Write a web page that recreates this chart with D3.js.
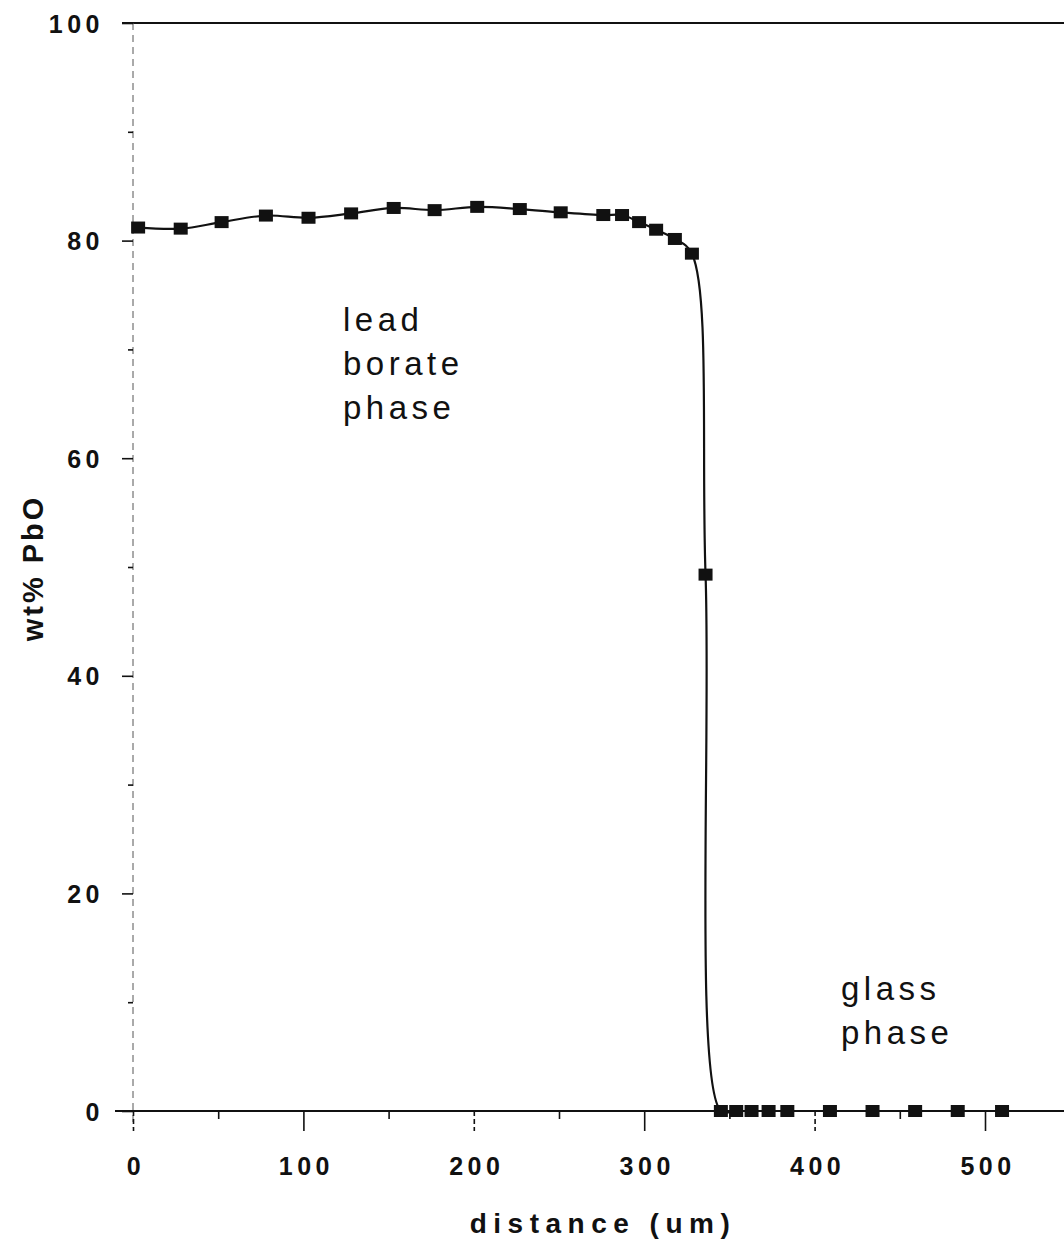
<!DOCTYPE html>
<html lang="en">
<head>
  <meta charset="UTF-8">
  <title>wt% PbO vs distance</title>
  <script src="https://d3js.org/d3.v7.min.js"></script>
  <style>
    body {
      margin: 0;
      background: #fff;
      font-family: "Liberation Sans", Arial, sans-serif;
    }
    .tick text {
      font-family: "Liberation Sans", Arial, sans-serif;
      font-size: 25px;
      font-weight: bold;
      fill: #111;
      letter-spacing: 4.5px;
    }
    .tick line {
      stroke: #111;
      stroke-width: 1.6;
    }
    .note {
      font-size: 33px;
      letter-spacing: 4.5px;
      fill: #111;
    }
    .title {
      font-weight: bold;
      fill: #111;
    }
  </style>
</head>
<body>
  <div id="chart"></div>

  <script>
    // data
    const distance = [3, 28, 52, 78, 103, 128, 153, 177, 202, 227, 251, 276, 287, 297,
                      307, 318, 328, 336, 345, 354, 363, 373, 384, 409, 434, 459, 484, 510];
    const pbo = [81.2, 81.1, 81.7, 82.3, 82.1, 82.5, 83.0, 82.8, 83.1, 82.9, 82.6, 82.35,
                 82.35, 81.7, 81.0, 80.15, 78.8, 49.3, 0, 0, 0, 0, 0, 0, 0, 0, 0, 0];

    const xMajor = [0, 100, 200, 300, 400, 500];
    const xMinor = [50, 150, 250, 350, 450];
    const yMajor = [0, 20, 40, 60, 80, 100];
    const yMinor = [10, 30, 50, 70, 90];

    const width = 1064, height = 1240;
    const x0 = 133, yTop = 23, yZero = 1111;

    const x = d3.scaleLinear().domain([0, 550]).range([x0, x0 + 550 * 1.704]);
    const y = d3.scaleLinear().domain([0, 100]).range([yZero, yTop]);

    const svg = d3.select("#chart")
      .append("svg")
      .attr("width", width)
      .attr("height", height);

    // frame lines: top at 100, solid zero line
    svg.append("line")
      .attr("x1", 122).attr("x2", width)
      .attr("y1", y(100)).attr("y2", y(100))
      .attr("stroke", "#111").attr("stroke-width", 1.8);

    svg.append("line")
      .attr("x1", 115).attr("x2", width)
      .attr("y1", y(0)).attr("y2", y(0))
      .attr("stroke", "#111").attr("stroke-width", 1.8);

    // dashed y axis line
    svg.append("line")
      .attr("x1", x0).attr("x2", x0)
      .attr("y1", y(100)).attr("y2", y(-1.5))
      .attr("stroke", "#555").attr("stroke-width", 1)
      .attr("stroke-dasharray", "7,5");

    // y axis
    const yAxis = svg.append("g")
      .attr("transform", `translate(${x0},0)`)
      .call(d3.axisLeft(y).tickValues(yMajor).tickSize(11).tickPadding(18)
              .tickFormat(d3.format("d")));
    yAxis.select(".domain").remove();
    yAxis.selectAll(".tick text").attr("dy", "0.36em");

    const yMinorAxis = svg.append("g")
      .attr("transform", `translate(${x0},0)`)
      .call(d3.axisLeft(y).tickValues(yMinor).tickSize(5).tickFormat(""));
    yMinorAxis.select(".domain").remove();

    // x axis
    const xAxis = svg.append("g")
      .attr("transform", `translate(0,${yZero})`)
      .call(d3.axisBottom(x).tickValues(xMajor).tickSize(20).tickPadding(26)
              .tickFormat(d3.format("d")));
    xAxis.select(".domain").remove();
    xAxis.selectAll(".tick text").attr("dx", "2.5px").attr("dy", "0.71em");
    xAxis.selectAll(".tick line").filter(d => d === 0 || d === 200 || d === 400)
      .attr("stroke-dasharray", "5,3").attr("stroke", "#444");

    const xMinorAxis = svg.append("g")
      .attr("transform", `translate(0,${yZero})`)
      .call(d3.axisBottom(x).tickValues(xMinor).tickSize(8).tickFormat(""));
    xMinorAxis.select(".domain").remove();

    // axis titles
    svg.append("text")
      .attr("class", "title")
      .attr("x", 603).attr("y", 1233)
      .attr("text-anchor", "middle")
      .attr("font-size", 28)
      .attr("letter-spacing", 6.5)
      .text("distance (um)");

    svg.append("text")
      .attr("class", "title")
      .attr("transform", "translate(43,568) rotate(-90)")
      .attr("text-anchor", "middle")
      .attr("font-size", 29)
      .attr("letter-spacing", 3)
      .text("wt% PbO");

    // curve and markers
    const pts = distance.map((d, i) => [d, pbo[i]]);

    const line = d3.line()
      .x(d => x(d[0]))
      .y(d => y(d[1]))
      .curve(d3.curveCatmullRom.alpha(0.5));

    svg.append("path")
      .datum(pts)
      .attr("d", line)
      .attr("fill", "none")
      .attr("stroke", "#111")
      .attr("stroke-width", 2.2);

    svg.selectAll("rect.pt")
      .data(pts)
      .join("rect")
      .attr("class", "pt")
      .attr("x", d => x(d[0]) - 7)
      .attr("y", d => y(d[1]) - 6)
      .attr("width", 14)
      .attr("height", 12)
      .attr("fill", "#111");

    // phase labels
    const leadLines = ["lead", "borate", "phase"];
    const glassLines = ["glass", "phase"];

    svg.append("text")
      .attr("class", "note")
      .selectAll("tspan")
      .data(leadLines)
      .join("tspan")
      .attr("x", 343)
      .attr("y", (d, i) => 331 + i * 44)
      .text(d => d);

    svg.append("text")
      .attr("class", "note")
      .selectAll("tspan")
      .data(glassLines)
      .join("tspan")
      .attr("x", 841)
      .attr("y", (d, i) => 1000 + i * 44)
      .text(d => d);
  </script>
</body>
</html>
